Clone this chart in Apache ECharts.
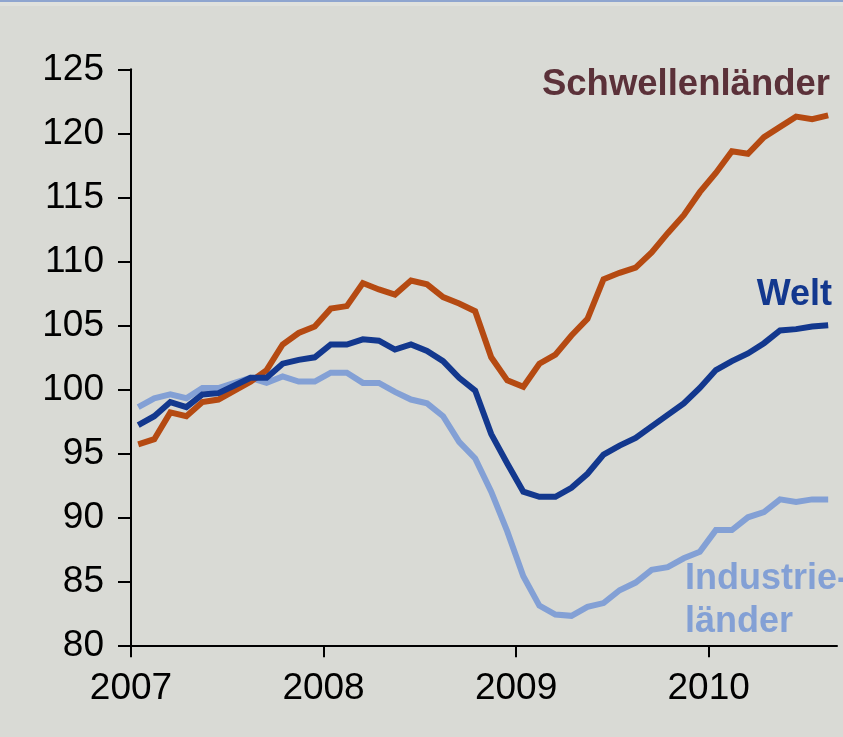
<!DOCTYPE html>
<html>
<head>
<meta charset="utf-8">
<script src="https://cdn.jsdelivr.net/npm/echarts@6/dist/echarts.min.js"></script>
<style>
  html, body { margin: 0; padding: 0; background: #d9dad5; }
  #chartWrap { width: 843px; height: 737px; }
</style>
</head>
<body>
<div id="chartWrap"></div>
<script>
// Monatswerte Jan 2007 - Aug 2010
var yearLabels = ['2007', '2008', '2009', '2010'];

var schwellen = [95.7, 96.1, 98.2, 97.9, 99.0, 99.2, 99.9, 100.6, 101.5, 103.5, 104.4, 104.9,
    106.3, 106.5, 108.3, 107.8, 107.4, 108.5, 108.2, 107.2, 106.7, 106.1, 102.5, 100.7,
    100.2, 102.0, 102.7, 104.2, 105.5, 108.6, 109.1, 109.5, 110.7, 112.2, 113.6, 115.4,
    116.9, 118.6, 118.4, 119.7, 120.5, 121.3, 121.1, 121.4];

var welt = [97.2, 97.9, 99.0, 98.6, 99.6, 99.7, 100.3, 100.9, 100.9, 102.0, 102.3, 102.5,
    103.5, 103.5, 103.9, 103.8, 103.1, 103.5, 103.0, 102.2, 100.9, 99.9, 96.5, 94.2,
    92.0, 91.6, 91.6, 92.3, 93.4, 94.9, 95.6, 96.2, 97.1, 98.0, 98.9, 100.1,
    101.5, 102.2, 102.8, 103.6, 104.6, 104.7, 104.9, 105.0];

var industrie = [98.6, 99.3, 99.6, 99.3, 100.1, 100.1, 100.5, 100.9, 100.5, 101.0, 100.6, 100.6,
    101.3, 101.3, 100.5, 100.5, 99.8, 99.2, 98.9, 97.9, 95.9, 94.6, 92.0, 88.9,
    85.4, 83.1, 82.4, 82.3, 83.0, 83.3, 84.3, 84.9, 85.9, 86.1, 86.8, 87.3,
    89.0, 89.0, 90.0, 90.4, 91.4, 91.2, 91.4, 91.4];

// Punkte etwa in Monatsmitte
function toPoints(arr) {
    var pts = [];
    for (var i = 0; i < arr.length; i++) {
        pts.push([i + 0.45, arr[i]]);
    }
    return pts;
}

var myChart = echarts.init(document.getElementById('chartWrap'));

var lineOps = function (name, color, data) {
    return {
        name: name,
        type: 'line',
        data: toPoints(data),
        showSymbol: false,
        symbol: 'none',
        lineStyle: { color: color, width: 6, join: 'miter' },
        animation: false
    };
};

var font = '"Liberation Sans", Arial, sans-serif';

myChart.setOption({
    backgroundColor: '#d9dad5',
    animation: false,
    grid: { left: 131, right: 6, top: 69.3, bottom: 91.7 },
    xAxis: {
        type: 'value',
        min: 0,
        max: 44,
        splitLine: { show: false },
        axisLine: { lineStyle: { color: '#000', width: 2 } },
        axisTick: { show: true, length: 12, lineStyle: { color: '#000', width: 2 }, customValues: [0, 12, 24, 36] },
        axisLabel: {
            customValues: [0, 12, 24, 36],
            formatter: function (v) { return yearLabels[Math.round(v / 12)] || ''; },
            color: '#000', fontSize: 37, fontFamily: font, margin: 25
        }
    },
    yAxis: {
        type: 'value',
        min: 80,
        max: 125,
        interval: 5,
        splitLine: { show: false },
        axisLine: { show: true, lineStyle: { color: '#000', width: 2 } },
        axisTick: { show: true, length: 13, lineStyle: { color: '#000', width: 2 } },
        axisLabel: { color: '#000', fontSize: 37, fontFamily: font, margin: 27 }
    },
    series: [
        lineOps('Industrieländer', '#83a0d5', industrie),
        lineOps('Schwellenländer', '#b54a12', schwellen),
        lineOps('Welt', '#13388e', welt)
    ],
    graphic: [
        { type: 'rect', left: 0, top: 0, shape: { width: 843, height: 2 }, style: { fill: '#8fa5cf' }, silent: true },
        { type: 'rect', left: 0, top: 2, shape: { width: 843, height: 4 }, style: { fill: '#e0e1dd' }, silent: true },
        { type: 'text', x: 830, y: 84.5, style: { text: 'Schwellenländer', fill: '#5b3139', font: 'bold 36.5px ' + font, align: 'right', verticalAlign: 'middle' } },
        { type: 'text', x: 832, y: 295.5, style: { text: 'Welt', fill: '#13388e', font: 'bold 36px ' + font, align: 'right', verticalAlign: 'middle' } },
        { type: 'text', x: 685, y: 579.5, style: { text: 'Industrie-', fill: '#83a0d5', font: 'bold 36px ' + font, align: 'left', verticalAlign: 'middle' } },
        { type: 'text', x: 685, y: 622.5, style: { text: 'länder', fill: '#83a0d5', font: 'bold 36px ' + font, align: 'left', verticalAlign: 'middle' } }
    ]
});
</script>
</body>
</html>
